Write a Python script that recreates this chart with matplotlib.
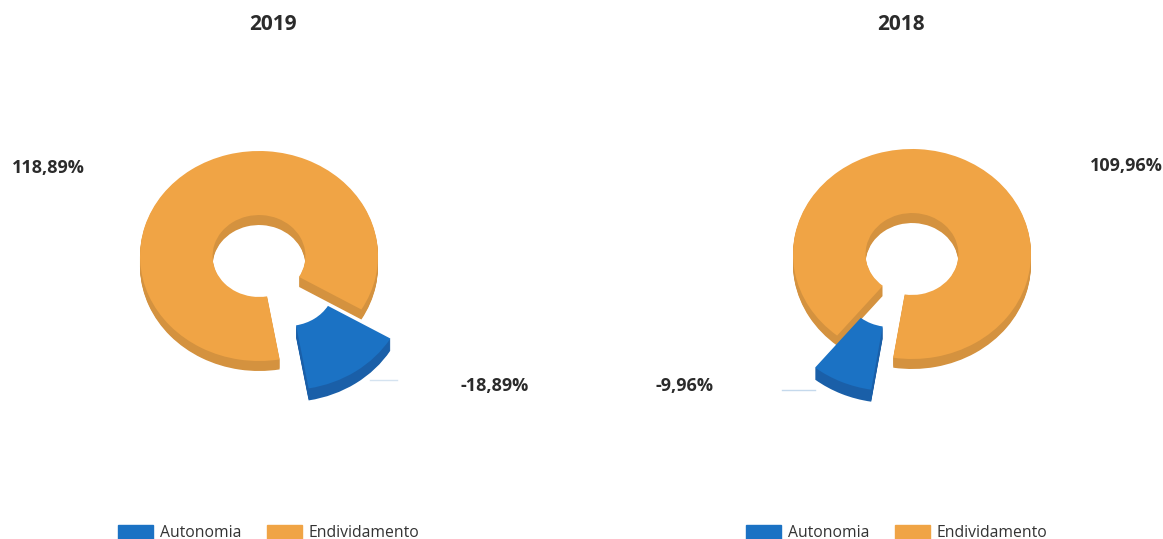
import matplotlib
matplotlib.use('Agg')
import matplotlib.pyplot as plt
from matplotlib.patches import Patch

plt.rcParams['font.family'] = ['Open Sans', 'DejaVu Sans']

# data
years = ['2019', '2018']
categories = ['Autonomia', 'Endividamento']
autonomia = [-18.89, -9.96]
endividamento = [118.89, 109.96]

W, H = 1163, 539
BLUE, BLUE_SIDE = '#1B72C4', '#1A5FA8'
ORANGE, ORANGE_SIDE = '#F0A445', '#D4923F'


def pct(v):
    return f'{v:.2f}'.replace('.', ',') + '%'


def ring(ax, share, start, offset, rx, ry):
    # one pie call per layer, the slices get moved around afterwards
    wedges, _ = ax.pie(share, startangle=start, colors=[BLUE, ORANGE],
                       radius=1, wedgeprops=dict(width=0.61, linewidth=0))
    wedges[0].set_center((offset[0] / rx, -offset[1] / ry))
    return wedges


def donut(cx, cy, auto, endiv, start, offset, depth=10, blue_depth=12, rx=119, ry=105):
    ax = fig.add_axes([0, 0, 1, 1])
    ax.patch.set_visible(False)
    share = [abs(auto), abs(endiv)]

    # stack darker copies downwards for the side of the ring
    for d in range(depth, 0, -1):
        wedges = ring(ax, share, start, offset, rx, ry)
        wedges[0].set_visible(False)
        wedges[1].set_center((0, -d / ry))
        wedges[1].set_facecolor(ORANGE_SIDE)
    top = ring(ax, share, start, offset, rx, ry)
    top[0].set_visible(False)

    for d in range(blue_depth, 0, -1):
        wedges = ring(ax, share, start, offset, rx, ry)
        wedges[1].set_visible(False)
        wedges[0].set_center((offset[0] / rx, -(offset[1] + d) / ry))
        wedges[0].set_facecolor(BLUE_SIDE)
    top = ring(ax, share, start, offset, rx, ry)
    top[1].set_visible(False)

    ax.set_aspect('auto')
    ax.set_xlim(-cx / rx, (W - cx) / rx)
    ax.set_ylim(-(H - cy) / ry, cy / ry)
    ax.axis('off')


def label(x, y, s, size=13):
    fig.text(x / W, 1 - y / H, s, ha='center', va='center', fontsize=size,
             fontweight='bold', color='#2b2b2b')


fig = plt.figure(figsize=(W / 100, H / 100), dpi=100)

donut(259, 256, autonomia[0], endividamento[0], -80, (29, 29))
donut(912, 254, autonomia[1], endividamento[1], -129, (-22, 32))

label(273, 24, years[0], 15)
label(901, 24, years[1], 15)
label(48, 168, pct(endividamento[0]))
label(495, 386, pct(autonomia[0]))
label(685, 386, pct(autonomia[1]))
label(1126, 166, pct(endividamento[1]))

# faint leader lines next to the blue slices
fig.add_artist(plt.Line2D([370 / W, 397 / W], [1 - 380 / H] * 2, color='#d5e3f0', lw=1))
fig.add_artist(plt.Line2D([782 / W, 815 / W], [1 - 390 / H] * 2, color='#c5d9ec', lw=1))

# legends sit right on the bottom edge
for x0 in (118, 746):
    handles = [Patch(color=BLUE), Patch(color=ORANGE)]
    fig.legend(handles, categories, ncol=2, frameon=False, fontsize=11.3,
               loc='lower left', bbox_to_anchor=(x0 / W, 1 - 541 / H),
               borderaxespad=0, borderpad=0, handlelength=2.23, handleheight=1.0,
               handletextpad=0.45, columnspacing=1.6, labelcolor='#333333')

fig.savefig('out.png', dpi=100)
